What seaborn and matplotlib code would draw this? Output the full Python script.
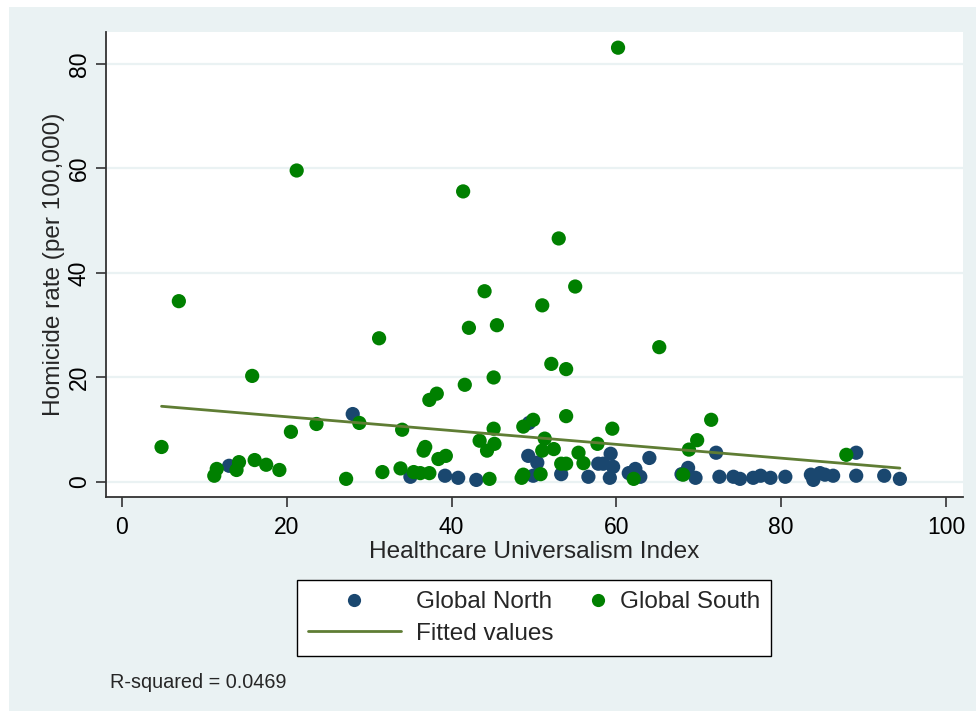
import matplotlib
matplotlib.use("Agg")
import matplotlib.pyplot as plt
from matplotlib.lines import Line2D
from matplotlib.legend_handler import HandlerLine2D
from matplotlib.patches import Rectangle
import numpy as np
import pandas as pd
import seaborn as sns

# Healthcare Universalism Index vs. homicide rate, by region
north_hui = [13.0, 28.0, 35.0, 39.2, 40.8, 43.0, 49.3, 49.4, 50.4, 49.9, 53.3,
             56.6, 57.8, 58.4, 59.2, 59.3, 59.6, 61.5, 62.3, 62.9, 64.0, 67.9,
             68.7, 69.6, 72.1, 72.5, 74.2, 75.0, 76.6, 77.5, 78.7, 80.5, 83.6,
             83.9, 84.7, 85.3, 86.3, 89.1, 89.1, 92.5, 94.4]
north_rate = [3.1, 13.0, 1.0, 1.2, 0.8, 0.4, 5.0, 11.3, 3.7, 1.2, 1.5,
              1.0, 3.5, 3.5, 0.8, 5.4, 2.9, 1.7, 2.5, 1.0, 4.6, 1.5,
              2.7, 0.8, 5.6, 1.0, 1.0, 0.6, 0.8, 1.2, 0.8, 1.0, 1.4,
              0.4, 1.7, 1.4, 1.2, 5.6, 1.2, 1.2, 0.6]

south_hui = [4.8, 6.9, 11.2, 11.5, 13.9, 14.2, 15.8, 16.1, 17.5, 19.1, 20.5,
             21.2, 23.6, 27.2, 28.8, 31.2, 31.6, 33.8, 34.0, 35.4, 36.2, 37.3,
             36.6, 36.8, 37.3, 38.2, 38.4, 39.3, 41.4, 41.6, 42.1, 43.4, 44.0,
             44.3, 44.6, 45.1, 45.1, 45.2, 45.5, 48.5, 48.7, 48.7, 49.9, 50.8,
             51.0, 51.0, 51.3, 52.1, 52.4, 53.0, 53.3, 53.9, 53.9, 53.9, 55.0,
             55.4, 56.0, 57.7, 59.5, 60.2, 62.1, 65.2, 68.1, 68.8, 69.8, 71.5,
             87.9]
south_rate = [6.7, 34.6, 1.2, 2.5, 2.3, 3.8, 20.3, 4.2, 3.3, 2.3, 9.6,
              59.6, 11.1, 0.6, 11.3, 27.5, 1.9, 2.6, 10.0, 1.9, 1.7, 1.7,
              6.0, 6.7, 15.7, 16.9, 4.4, 5.0, 55.6, 18.6, 29.5, 7.9, 36.5,
              6.0, 0.6, 10.2, 20.0, 7.3, 30.0, 0.8, 1.4, 10.6, 11.9, 1.5,
              33.8, 6.0, 8.3, 22.6, 6.3, 46.6, 3.5, 3.5, 21.6, 12.6, 37.4,
              5.6, 3.6, 7.3, 10.2, 83.1, 0.6, 25.8, 1.4, 6.2, 8.0, 11.9,
              5.2]

# Linear fit of homicide rate on the index
fit_intercept = 15.12
fit_slope = -0.132
r_squared = 0.0469

x_ticks = [0, 20, 40, 60, 80, 100]
y_ticks = [0, 20, 40, 60, 80]

df = pd.DataFrame({
    "hui": north_hui + south_hui,
    "rate": north_rate + south_rate,
    "region": ["Global North"] * len(north_hui) + ["Global South"] * len(south_hui),
})
all_x = np.array(north_hui + south_hui)
fit_x = np.array([all_x.min(), all_x.max()])
fit_df = pd.DataFrame({"hui": fit_x, "fit": fit_intercept + fit_slope * fit_x})

NAVY = "#1a476f"
GREEN = "#008000"
OLIVE = "#5f7d34"
BG = "#eaf2f3"


class RightMarkerHandler(HandlerLine2D):
    """Legend handler that puts its single marker near the right end of the handle box."""

    def get_xdata(self, legend, xdescent, ydescent, width, height, fontsize):
        m = -xdescent + width - 0.3 * fontsize
        xdata = np.array([m - 1.0, m + 1.0])
        return xdata, np.array([m])


sns.set_theme(style="white")
plt.rcParams["font.family"] = ["Liberation Sans", "DejaVu Sans"]

W, H = 976, 715
fig = plt.figure(figsize=(W / 100, H / 100), dpi=100, facecolor="white")
fig.patches.append(Rectangle((9 / W, 1 - 711 / H), 1 - 9 / W, (711 - 7) / H,
                             transform=fig.transFigure, facecolor=BG,
                             edgecolor="none", zorder=-10))

ax = fig.add_axes([106 / W, 1 - 497 / H, (963 - 106) / W, (497 - 32) / H])
ax.set_facecolor("white")

sns.scatterplot(data=df, x="hui", y="rate", hue="region",
                palette={"Global North": NAVY, "Global South": GREEN},
                s=105, linewidth=0, alpha=1, legend=False, ax=ax, zorder=3)
sns.lineplot(data=fit_df, x="hui", y="fit", color=OLIVE, linewidth=2.0,
             ax=ax, zorder=4)

ax.set_xlim(-1.94, 102.06)
ax.set_ylim(-2.87, 86.1)
ax.set_xticks(x_ticks)
ax.set_yticks(y_ticks)
ax.yaxis.grid(True, color=BG, linewidth=1.6)
ax.xaxis.grid(False)
ax.set_axisbelow(True)

for side in ("top", "right"):
    ax.spines[side].set_visible(False)
for side in ("left", "bottom"):
    ax.spines[side].set_color("#333333")
    ax.spines[side].set_linewidth(1.3)

ax.tick_params(axis="both", which="major", direction="out", length=7,
               width=1.2, color="#333333", labelsize=16.5, labelcolor="black",
               bottom=True, left=True)
ax.tick_params(axis="x", pad=7)
ax.tick_params(axis="y", pad=4, labelrotation=90)
for lab in ax.get_yticklabels():
    lab.set_verticalalignment("center")

ax.set_xlabel("Healthcare Universalism Index", fontsize=17.6, labelpad=1)
ax.set_ylabel("Homicide rate (per 100,000)", fontsize=17.6, labelpad=2)

h_north = Line2D([], [], linestyle="none", marker="o", markersize=9.5,
                 markerfacecolor=NAVY, markeredgewidth=0, label="Global North")
h_fit = Line2D([], [], color=OLIVE, linewidth=2.0, label="Fitted values")
h_south = Line2D([], [], linestyle="none", marker="o", markersize=9.5,
                 markerfacecolor=GREEN, markeredgewidth=0, label="Global South")

leg = fig.legend(handles=[h_north, h_fit, h_south], ncol=2,
                 loc="center", bbox_to_anchor=(534 / W, 1 - 618 / H),
                 fontsize=17.5, frameon=True, fancybox=False, shadow=False,
                 framealpha=1.0,
                 handlelength=3.83, handletextpad=0.62, columnspacing=-1.69,
                 labelspacing=0.4, borderpad=0.45,
                 handler_map={h_south: RightMarkerHandler()})
leg.get_frame().set_edgecolor("black")
leg.get_frame().set_linewidth(1.0)
leg.get_frame().set_facecolor("white")

fig.text(110 / W, 1 - 683 / H, f"R-squared = {r_squared:.4f}",
         fontsize=14.3, va="center", ha="left")

fig.savefig("out.png", dpi=100, facecolor=fig.get_facecolor())
